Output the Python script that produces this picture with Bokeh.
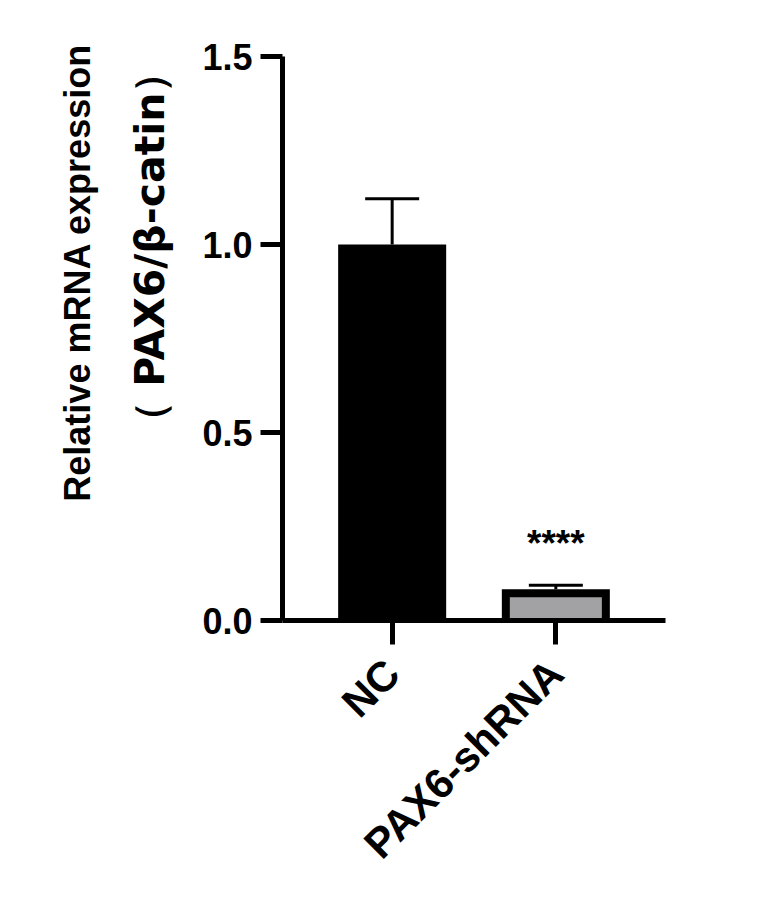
import math
from bokeh.plotting import figure
from bokeh.models import (FactorRange, Range1d, FixedTicker, Whisker, TeeHead,
                          ColumnDataSource, Title, NumeralTickFormatter)
from bokeh.core.properties import value
from bokeh.embed import file_html
from bokeh.resources import INLINE

# ---- data ----
categories = ["NC", "PAX6-shRNA"]
means = [1.0, 0.083]
errors = [0.122, 0.011]
bar_colors = ["#000000", "#a2a2a4"]
significance = ["", "****"]
y_ticks = [0.0, 0.5, 1.0, 1.5]
y_title_line1 = "Relative mRNA expression"
y_title_line2 = "\uff08 PAX6/\u03b2-catin\uff09"

# ---- layout / style ----
W, H = 750, 900
B_LEFT, B_RIGHT, B_TOP, B_BOTTOM = 282, 85, 56, 280
Y_MAX = 1.5
X_PAD = 0.17
BAR_W = 0.66          # outer bar width (factor units)
BORDER_PX = 8         # bar outline drawn inside the bar, like the reference

frame_w = W - B_LEFT - B_RIGHT
frame_h = H - B_TOP - B_BOTTOM
px_per_x = frame_w / (len(categories) + 2 * X_PAD)
px_per_y = frame_h / Y_MAX

upper = [m + e for m, e in zip(means, errors)]
inner_top = [max(m - BORDER_PX / px_per_y, 0) for m in means]
src = ColumnDataSource(dict(cat=categories, mean=means, upper=upper,
                            inner_top=inner_top, color=bar_colors,
                            sig=significance))

p = figure(width=W, height=H,
           x_range=FactorRange(factors=categories, range_padding=X_PAD,
                               range_padding_units="absolute"),
           y_range=Range1d(0, Y_MAX),
           output_backend="svg", toolbar_location=None,
           min_border_left=B_LEFT, min_border_right=B_RIGHT,
           min_border_top=B_TOP, min_border_bottom=B_BOTTOM)

p.background_fill_color = "white"
p.border_fill_color = "white"
p.outline_line_color = None
p.xgrid.visible = False
p.ygrid.visible = False

# outer (outline) bar, then inner fill inset by the border width
p.vbar(x="cat", top="mean", bottom=0, width=BAR_W, fill_color="black",
       line_color=None, source=src)
p.vbar(x="cat", top="inner_top", bottom=0,
       width=BAR_W - 2 * BORDER_PX / px_per_x,
       fill_color="color", line_color=None, source=src)

p.add_layout(Whisker(base="cat", upper="upper", lower="mean", dimension="height",
                     source=src, line_width=3, line_color="black",
                     upper_head=TeeHead(size=54, line_width=3, line_color="black"),
                     lower_head=None))

p.text(x="cat", y="upper", text="sig", source=src, y_offset=-42,
       text_align="center", text_baseline="alphabetic",
       text_font=value("Liberation Sans"), text_font_style="bold",
       text_font_size="37px", text_color="black")

FONT = "Liberation Sans"

xa = p.xaxis[0]
xa.axis_line_width = 5
xa.axis_line_color = "black"
xa.major_tick_line_width = 5
xa.major_tick_line_color = "black"
xa.major_tick_out = 24
xa.major_tick_in = 0
xa.minor_tick_out = 0
xa.minor_tick_in = 0
xa.major_label_orientation = math.pi / 4
xa.major_label_standoff = 22
xa.major_label_text_font = FONT
xa.major_label_text_font_style = "bold"
xa.major_label_text_font_size = "42px"
xa.major_label_text_color = "black"

ya = p.yaxis[0]
ya.ticker = FixedTicker(ticks=y_ticks)
ya.formatter = NumeralTickFormatter(format="0.0")
ya.axis_line_width = 5
ya.axis_line_color = "black"
ya.major_tick_line_width = 5
ya.major_tick_line_color = "black"
ya.major_tick_out = 22
ya.major_tick_in = 0
ya.minor_tick_out = 0
ya.minor_tick_in = 0
ya.major_label_standoff = 8
ya.major_label_text_font = FONT
ya.major_label_text_font_style = "bold"
ya.major_label_text_font_size = "36px"
ya.major_label_text_color = "black"

# two-line y title, inner line first (closest to the axis)
p.add_layout(Title(text=y_title_line2, align="right", offset=-5,
                   vertical_align="bottom", standoff=52,
                   text_font="DejaVu Sans", text_font_style="bold",
                   text_font_size="41px", text_color="black"), "left")
p.add_layout(Title(text=y_title_line1, align="right", offset=-13,
                   vertical_align="bottom", standoff=0,
                   text_font=FONT, text_font_style="bold",
                   text_font_size="36px", text_color="black"), "left")

open("out.html", "w").write(file_html(p, INLINE))
